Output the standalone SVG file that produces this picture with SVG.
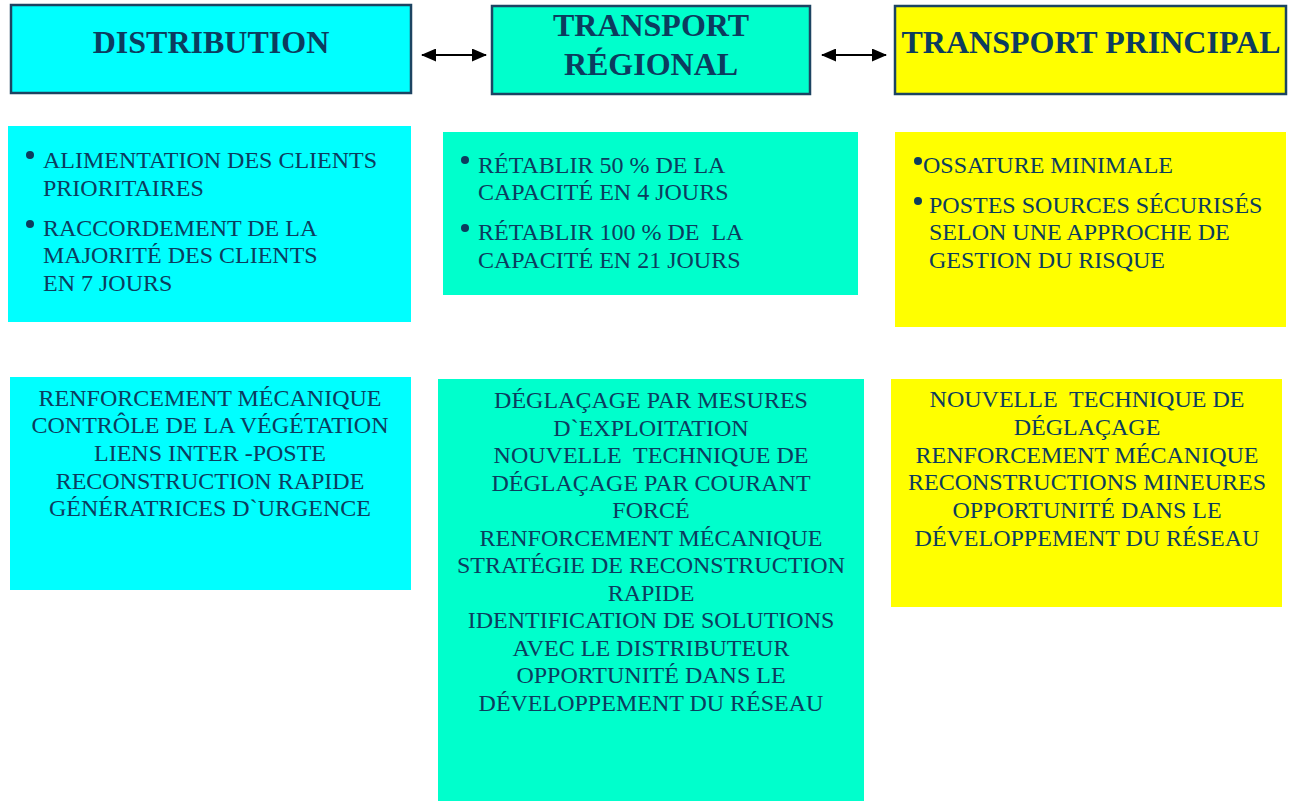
<svg xmlns="http://www.w3.org/2000/svg" width="1294" height="801" viewBox="0 0 1294 801">
<style>
.hdr{stroke:#1C4462;stroke-width:2.5}
.cy{fill:#00FFFF}.tl{fill:#00FFCC}.yl{fill:#FFFF00}
.ht{font-family:"Liberation Serif",serif;font-weight:bold;font-size:32px;fill:#0C3C5E;text-anchor:middle}
.bt{font-family:"Liberation Serif",serif;font-size:24px;fill:#0C3C5E}
.ct{text-anchor:middle}
.bl{fill:#0C3C5E}
.ar{stroke:#000;stroke-width:2;fill:none}
</style>
<defs>
<marker id="ah" viewBox="0 0 15 13" refX="14" refY="6.5" markerWidth="15" markerHeight="13" markerUnits="userSpaceOnUse" orient="auto-start-reverse">
<path d="M0,0 L15,6.5 L0,13 z" fill="#000"/>
</marker>
</defs>
<rect width="1294" height="801" fill="#fff"/>

<g id="h-distribution">
<rect class="hdr cy" x="11" y="5" width="400" height="88"/>
<text class="ht" x="211" y="53">DISTRIBUTION</text>
</g>
<g id="h-regional">
<rect class="hdr tl" x="492" y="6" width="318" height="88"/>
<text class="ht" x="651" y="36">TRANSPORT</text>
<text class="ht" x="651" y="75">RÉGIONAL</text>
</g>
<g id="h-principal">
<rect class="hdr yl" x="895" y="6" width="391" height="88"/>
<text class="ht" x="1091" y="53">TRANSPORT PRINCIPAL</text>
</g>

<g id="connectors">
<line class="ar" x1="422" y1="55" x2="486" y2="55" marker-start="url(#ah)" marker-end="url(#ah)"/>
<line class="ar" x1="822" y1="55" x2="886" y2="55" marker-start="url(#ah)" marker-end="url(#ah)"/>
</g>

<g id="obj-distribution">
<rect class="cy" x="8" y="126" width="403" height="196"/>
<circle class="bl" cx="30" cy="155" r="4"/>
<circle class="bl" cx="30" cy="224" r="4"/>
<text class="bt" x="43" y="168">ALIMENTATION DES CLIENTS</text>
<text class="bt" x="43" y="196">PRIORITAIRES</text>
<text class="bt" x="43" y="236">RACCORDEMENT DE LA</text>
<text class="bt" x="43" y="263">MAJORITÉ DES CLIENTS</text>
<text class="bt" x="43" y="291">EN 7 JOURS</text>
</g>
<g id="obj-regional">
<rect class="tl" x="443" y="132" width="415" height="163"/>
<circle class="bl" cx="465" cy="160" r="4"/>
<circle class="bl" cx="465" cy="228" r="4"/>
<text class="bt" x="478" y="173">RÉTABLIR 50 % DE LA</text>
<text class="bt" x="478" y="200">CAPACITÉ EN 4 JOURS</text>
<text class="bt" x="478" y="240" xml:space="preserve">RÉTABLIR 100 % DE  LA</text>
<text class="bt" x="478" y="268">CAPACITÉ EN 21 JOURS</text>
</g>
<g id="obj-principal">
<rect class="yl" x="895" y="132" width="391" height="195"/>
<circle class="bl" cx="918" cy="161" r="4"/>
<circle class="bl" cx="918" cy="201" r="4"/>
<text class="bt" x="923" y="173">OSSATURE MINIMALE</text>
<text class="bt" x="929" y="213">POSTES SOURCES SÉCURISÉS</text>
<text class="bt" x="929" y="240">SELON UNE APPROCHE DE</text>
<text class="bt" x="929" y="268">GESTION DU RISQUE</text>
</g>

<g id="act-distribution">
<rect class="cy" x="10" y="377" width="401" height="213"/>
<text class="bt ct" x="210" y="406">RENFORCEMENT MÉCANIQUE</text>
<text class="bt ct" x="210" y="433">CONTRÔLE DE LA VÉGÉTATION</text>
<text class="bt ct" x="210" y="461">LIENS INTER -POSTE</text>
<text class="bt ct" x="210" y="489">RECONSTRUCTION RAPIDE</text>
<text class="bt ct" x="210" y="516">GÉNÉRATRICES D`URGENCE</text>
</g>
<g id="act-regional">
<rect class="tl" x="438" y="379" width="426" height="422"/>
<text class="bt ct" x="651" y="408">DÉGLAÇAGE PAR MESURES</text>
<text class="bt ct" x="651" y="436">D`EXPLOITATION</text>
<text class="bt ct" x="651" y="463" xml:space="preserve">NOUVELLE  TECHNIQUE DE</text>
<text class="bt ct" x="651" y="491">DÉGLAÇAGE PAR COURANT</text>
<text class="bt ct" x="651" y="518">FORCÉ</text>
<text class="bt ct" x="651" y="546">RENFORCEMENT MÉCANIQUE</text>
<text class="bt ct" x="651" y="573">STRATÉGIE DE RECONSTRUCTION</text>
<text class="bt ct" x="651" y="601">RAPIDE</text>
<text class="bt ct" x="651" y="628">IDENTIFICATION DE SOLUTIONS</text>
<text class="bt ct" x="651" y="656">AVEC LE DISTRIBUTEUR</text>
<text class="bt ct" x="651" y="683">OPPORTUNITÉ DANS LE</text>
<text class="bt ct" x="651" y="711">DÉVELOPPEMENT DU RÉSEAU</text>
</g>
<g id="act-principal">
<rect class="yl" x="891" y="379" width="391" height="228"/>
<text class="bt ct" x="1087" y="407" xml:space="preserve">NOUVELLE  TECHNIQUE DE</text>
<text class="bt ct" x="1087" y="435">DÉGLAÇAGE</text>
<text class="bt ct" x="1087" y="463">RENFORCEMENT MÉCANIQUE</text>
<text class="bt ct" x="1087" y="490">RECONSTRUCTIONS MINEURES</text>
<text class="bt ct" x="1087" y="518">OPPORTUNITÉ DANS LE</text>
<text class="bt ct" x="1087" y="546">DÉVELOPPEMENT DU RÉSEAU</text>
</g>
</svg>
